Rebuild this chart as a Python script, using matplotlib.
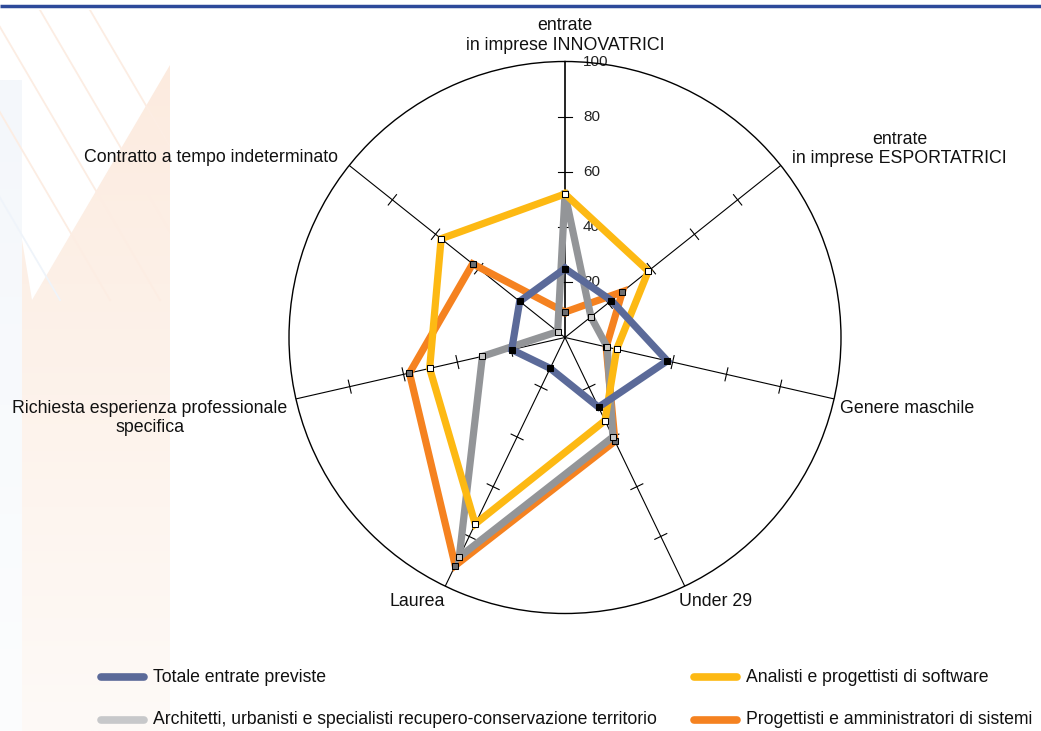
import numpy as np
import matplotlib
matplotlib.use("Agg")
import matplotlib.pyplot as plt
from matplotlib.lines import Line2D
from matplotlib.patches import Polygon, Rectangle
from matplotlib.transforms import offset_copy
from matplotlib.colors import LinearSegmentedColormap

plt.rcParams['font.family'] = ['Liberation Sans', 'DejaVu Sans']

categories = ["entrate\nin imprese INNOVATRICI", "entrate\nin imprese ESPORTATRICI",
              "Genere maschile", "Under 29", "Laurea",
              "Richiesta esperienza professionale\nspecifica", "Contratto a tempo indeterminato"]
series_names = ["Totale entrate previste", "Analisti e progettisti di software",
                "Architetti, urbanisti e specialisti recupero-conservazione territorio",
                "Progettisti e amministratori di sistemi"]
totale      = [25, 21.5, 38, 28, 12.4, 19.8, 21]
analisti    = [52, 38.6, 19.2, 33.4, 75, 50.3, 57.4]
architetti  = [52, 12, 15.7, 40, 88.3, 30.7, 3.4]
progettisti = [9.2, 26.6, 15.3, 41.7, 91.7, 57.8, 42.8]
tick_values = [20, 40, 60, 80, 100]

W, H = 1041, 731
fig = plt.figure(figsize=(W / 100, H / 100), dpi=100)

# ---- background decoration ----
bg = fig.add_axes([0, 0, 1, 1], zorder=-5)
bg.set_xlim(0, W); bg.set_ylim(H, 0); bg.axis('off')
grad = np.linspace(0, 1, 256).reshape(-1, 1)
cm_peach = LinearSegmentedColormap.from_list('p', ['#fcebdf', '#fefaf7'])
cm_blue = LinearSegmentedColormap.from_list('b', ['#f4f7fb', '#fcfdfe'])
im1 = bg.imshow(grad, extent=[22, 170, H, 60], cmap=cm_peach, aspect='auto', zorder=0)
poly = Polygon([(22, 240), (32, 300), (170, 65), (170, H), (22, H)], closed=True,
               transform=bg.transData, facecolor='none', edgecolor='none')
bg.add_patch(poly)
im1.set_clip_path(poly)
im2 = bg.imshow(grad, extent=[0, 22, H, 80], cmap=cm_blue, aspect='auto', zorder=0)
clip = Rectangle((0, 10), 170, 300, transform=bg.transData, facecolor='none', edgecolor='none')
bg.add_patch(clip)
for x0 in [-60, -10, 40, 90]:
    ln, = bg.plot([x0, x0 + 170], [10, 300], color='#fcede3', lw=1.3, zorder=0.5)
    ln.set_clip_path(clip)
for x0 in [-110]:
    ln, = bg.plot([x0, x0 + 170], [10, 300], color='#eff4fa', lw=1.3, zorder=0.5)
    ln.set_clip_path(clip)
bg.plot([0, W], [6, 6], color='#2d4a9a', lw=2.5, solid_capstyle='butt')

# ---- radar ----
cx, cy, R = 565, 337.5, 276
rect = [(cx - R) / W, (H - cy - R) / H, 2 * R / W, 2 * R / H]
ax = fig.add_axes(rect, projection='polar', facecolor='none')
ax.set_theta_offset(np.pi / 2)
ax.set_theta_direction(-1)
ax.set_ylim(0, 100)
ax.grid(False)
ax.set_xticks([]); ax.set_yticks([])
ax.spines['polar'].set_linewidth(1.0)
ax.spines['polar'].set_color('black')

n = len(categories)
angles = np.arange(n) * 2 * np.pi / n

for i, a in enumerate(angles):
    ax.plot([a, a], [0, 100], color='black', lw=1.2 if i == 0 else 0.8, zorder=1)
    for tv in tick_values[:-1]:
        h = 2.4
        d = np.arctan2(h, tv)
        rr = np.hypot(tv, h)
        ax.plot([a - d, a + d], [rr, rr], color='black', lw=0.8, zorder=1)

tr = offset_copy(ax.transData, fig=fig, x=18, y=0, units='dots')
for tv in tick_values:
    ax.text(0, tv, str(tv), transform=tr, ha='left', va='center', fontsize=11, color='#222222', zorder=2)

colors = ['#5b6a99', '#fdb913', '#939598', '#f58220']
mfc = ['black', 'white', '#c8c8c8', '#6d6e71']
data = [totale, analisti, architetti, progettisti]
zord = [6, 5, 4, 3]
ang_c = np.concatenate([angles, angles[:1]])
for d, c, z in zip(data, colors, zord):
    vals = np.concatenate([d, d[:1]])
    ax.plot(ang_c, vals, color=c, lw=5.2, zorder=z, solid_joinstyle='miter')

# markers on a cartesian overlay sharing the same frame
mx = fig.add_axes(rect, facecolor='none', zorder=ax.get_zorder() + 1)
mx.set_xlim(-100, 100); mx.set_ylim(-100, 100); mx.axis('off')
for d, f, z in zip(data, mfc, zord):
    d = np.asarray(d)
    mx.plot(d * np.sin(angles), d * np.cos(angles), ls='none', marker='s', ms=5.0,
            mfc=f, mec='black', mew=0.75, zorder=10 + z)

label_cfg = [
    (0, 8, 'center', 'bottom'),
    (119, -2, 'center', 'bottom'),
    (6, -10, 'left', 'center'),
    (-6, -7, 'left', 'top'),
    (0, -7, 'right', 'top'),
    (-146, -19, 'center', 'center'),
    (-11, 8, 'right', 'center'),
]
for a, lab, (dx, dy, ha, va) in zip(angles, categories, label_cfg):
    ax.annotate(lab, xy=(a, 100), xytext=(dx, dy), textcoords='offset pixels',
                ha=ha, va=va, fontsize=12.8, multialignment='center', color='#111111',
                annotation_clip=False)

# ---- legend ----
leg_colors = ['#5b6a99', '#fdb913', '#c7c8ca', '#f58220']
leg_pos = [(97, 677), (690, 677), (97, 720), (690, 720)]
for name, c, (x, y) in zip(series_names, leg_colors, leg_pos):
    fig.add_artist(Line2D([(x + 4) / W, (x + 47) / W], [1 - y / H, 1 - y / H], color=c, lw=5.5,
                          solid_capstyle='round', transform=fig.transFigure))
    fig.text((x + 56) / W, 1 - y / H, name, ha='left', va='center', fontsize=12.7, color='#111111')

fig.savefig('out.png', dpi=100)
